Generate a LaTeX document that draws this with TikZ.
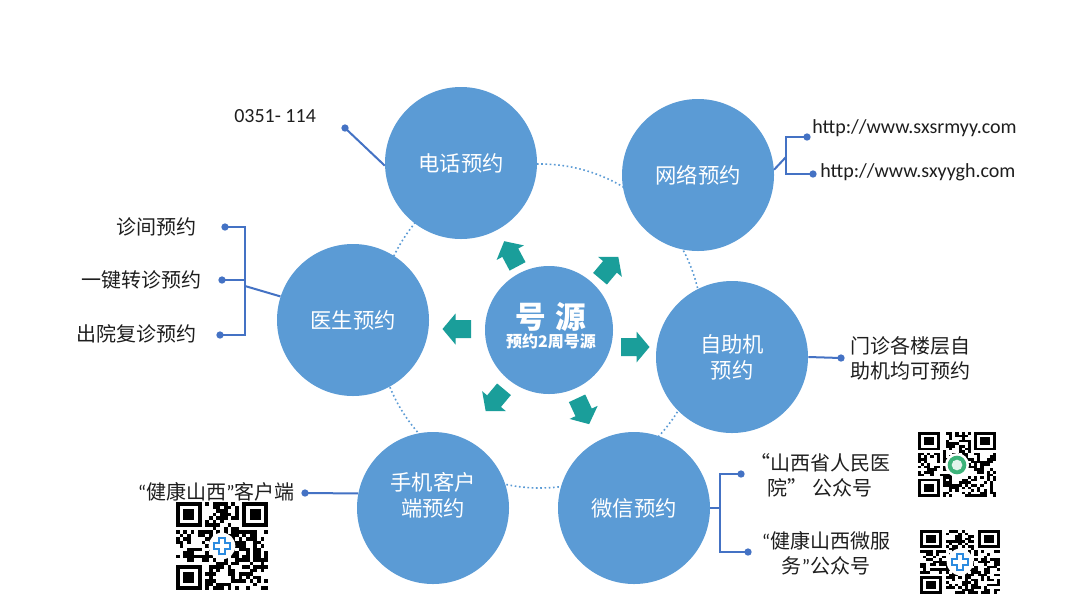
\documentclass[tikz,border=0pt]{standalone}
\usepackage{fontspec}
\setmainfont{Carlito}
\newfontfamily\cjk{Noto Sans CJK SC}
\usetikzlibrary{calc}
\definecolor{cblue}{HTML}{5B9BD5}
\definecolor{lblue}{HTML}{4472C4}
\definecolor{ateal}{HTML}{1A9E9A}
\definecolor{txt}{HTML}{1E1E1E}
\definecolor{qgreen}{HTML}{3DB37A}
\definecolor{qblue}{HTML}{2B8BE0}
\newcommand\myLq{{\rmfamily “}}
\newcommand\myRq{{\rmfamily ”}}
\newcommand\qrblock[5]{%
 \begin{scope}[shift={(#1,#2)},xscale=#3/25,yscale=#4/25]
  \pgfmathsetseed{#5}
  \foreach \i in {0,...,24}{\foreach \j in {0,...,24}{%
    \pgfmathrandominteger{\qrr}{0}{99}%
    \ifnum\qrr<50 \fill[black] (\i,\j) rectangle ++(1,1);\fi}}
  \foreach \a/\b/\c/\d in {0/0/0/0,18/0/17/0,0/18/0/17}{
    \fill[white] (\c,\d) rectangle ++(8,8);
    \fill[black] (\a,\b) rectangle ++(7,7);
    \fill[white] (\a+1,\b+1) rectangle ++(5,5);
    \fill[black] (\a+2,\b+2) rectangle ++(3,3);}
 \end{scope}}
\newcommand\crosslogo[2]{%
  \fill[white] (#1,#2) circle[radius=10pt];
  \draw[qblue,line width=6pt] ($(#1,#2)+(-7pt,0)$) -- ($(#1,#2)+(7pt,0)$) ($(#1,#2)+(0,-7pt)$) -- ($(#1,#2)+(0,7pt)$);
  \draw[white,line width=2.6pt] ($(#1,#2)+(-5pt,0)$) -- ($(#1,#2)+(5pt,0)$) ($(#1,#2)+(0,-5pt)$) -- ($(#1,#2)+(0,5pt)$);}
\begin{document}
\begin{tikzpicture}[x=0.75pt,y=-0.75pt,
  bubble/.style={circle,fill=cblue,minimum size=114pt,inner sep=0pt,text=white,align=center,
     font=\cjk\fontsize{16}{19.5}\selectfont},
  hub/.style={circle,fill=cblue,minimum size=96pt,inner sep=0pt},
  conn/.style={draw=lblue,line width=1.5pt},
  dot/.style={circle,fill=lblue,inner sep=0pt,minimum size=5.5pt},
  lab/.style={text=txt,font=\cjk\fontsize{15}{18.5}\selectfont,inner sep=0pt,align=center},
  urltxt/.style={text=txt,font=\fontsize{15}{18}\selectfont,inner sep=0pt},
  blockarrow/.pic={\fill[ateal] (-14,-9) -- (1.5,-9) -- (1.5,-15.5) -- (14.5,0) -- (1.5,15.5) -- (1.5,9) -- (-14,9) -- cycle;}
]
\useasboundingbox (0,0) rectangle (1080,608);
\fill[white] (0,0) rectangle (1080,608);

% dotted ring
\draw[cblue,line width=1.2pt,dotted] (540,326) circle[radius=121.5pt];

% circles
\node[bubble] (tel) at (461,163) {电话预约};
\node[bubble] (web) at (698,175) {网络预约};
\node[bubble] (doc) at (353,320) {医生预约};
\node[bubble] (self) at (732,357) {自助机\\预约};
\node[bubble] (mob) at (433,508) {};
\node[lab,text=white,font=\cjk\fontsize{16}{19.5}\selectfont] (mobt) at (433,495) {手机客户\\端预约};
\node[bubble] (wx) at (634,508) {微信预约};
\node[hub] (src) at (549,330) {};
\node[inner sep=0pt,text=white,font=\cjk\bfseries\fontsize{23}{26}\selectfont] (srct) at (551,317) {号\kern7pt 源};
\node[inner sep=0pt,text=white,font=\cjk\bfseries\fontsize{12}{14}\selectfont] (srcs) at (551,341) {预约2周号源};

% teal arrows
\pic[rotate=118] at (511,254) {blockarrow};
\pic[rotate=50] at (609,268) {blockarrow};
\pic[rotate=0] at (635,347) {blockarrow};
\pic[rotate=180] at (457,329) {blockarrow};
\pic[rotate=230] at (495,400) {blockarrow};
\pic[rotate=-65] at (583,411) {blockarrow};

% telephone
\node[urltxt,anchor=west] (t0351) at (234,116) {0351- 114};
\node[dot] (p1) at (345,128) {};
\draw[conn] (p1.center) -- (tel.182);

% web
\coordinate (wj) at (786,157);
\coordinate (wa) at (786,137);
\coordinate (wb) at (786,174);
\node[dot] (q1) at (807,137) {};
\node[dot] (q2) at (813,174) {};
\draw[conn] (web.4) -- (wj);
\draw[conn] (q1.center) -- (wa) -- (wb) -- (q2.center);
\node[urltxt,anchor=west] (url1) at (812,128) {http://www.sxsrmyy.com};
\node[urltxt,anchor=west] (url2) at (820,172) {http://www.sxyygh.com};

% doctor
\coordinate (ra) at (245,227);
\coordinate (rb) at (245,280);
\coordinate (rc) at (245,335);
\coordinate (rj) at (245,286);
\node[dot] (r1) at (225,227) {};
\node[dot] (r2) at (222,280) {};
\node[dot] (r3) at (220,335) {};
\draw[conn] (r1.center) -- (ra) -- (rc) -- (r3.center);
\draw[conn] (r2.center) -- (rb);
\draw[conn] (rj) -- (doc.162);
\node[lab,anchor=east] (d1) at (197,227) {诊间预约};
\node[lab,anchor=east] (d2) at (202,280) {一键转诊预约};
\node[lab,anchor=east] (d3) at (197,334) {出院复诊预约};

% self-service
\node[dot] (s1) at (841,358) {};
\draw[conn] (self.east) -- (s1.center);
\node[lab,anchor=west,align=left,font=\cjk\fontsize{15}{19}\selectfont] (st) at (850,358) {门诊各楼层自\\助机均可预约};

% wechat
\coordinate (wxj) at (720,508);
\coordinate (ua) at (720,474);
\coordinate (ub) at (720,552);
\node[dot] (u1) at (741,474) {};
\node[dot] (u2) at (748,552) {};
\draw[conn] (wx.east) -- (wxj);
\draw[conn] (u1.center) -- (ua) -- (ub) -- (u2.center);
\node[lab] (wt1) at (820,475) {“山西省人民医\\院” 公众号};
\node[lab] (wt2) at (826,553) {\myLq 健康山西微服\\务\myRq 公众号};

% mobile
\node[dot] (m1) at (305,493) {};
\draw[conn] (m1.center) -- (mob.169);
\node[lab,anchor=east] (mt) at (295,492) {\myLq 健康山西\myRq 客户端};

% QR codes
\qrblock{918}{432}{78}{65}{11}
\fill[white] (957,465) circle[radius=9pt];
\fill[qgreen] (957,465) circle[radius=7pt];
\fill[white!85!qgreen] (957,465) circle[radius=4pt];
\qrblock{920}{530}{80}{64}{23}
\crosslogo{960}{562}
\qrblock{176}{502}{92}{88}{37}
\crosslogo{222}{546}
\end{tikzpicture}
\end{document}
